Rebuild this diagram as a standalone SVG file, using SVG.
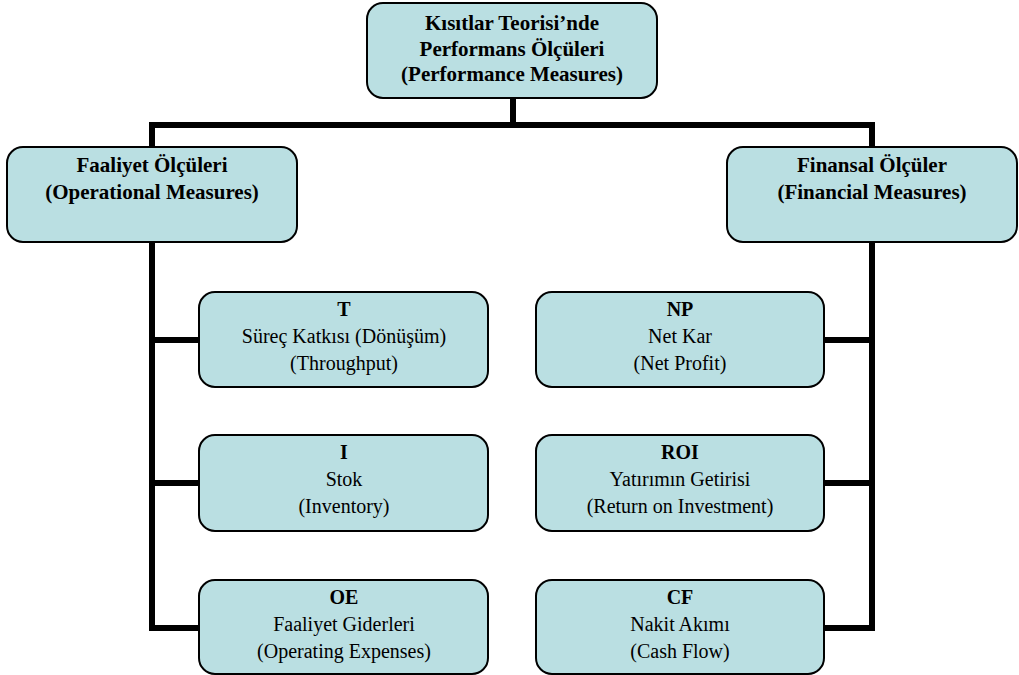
<svg xmlns="http://www.w3.org/2000/svg" width="1019" height="675" viewBox="0 0 1019 675">
<style>
.box{fill:#BADFE2;stroke:#000;stroke-width:2}
.t{font-family:"Liberation Serif","Times New Roman",serif;font-size:20px;fill:#000;text-anchor:middle}
.b{font-weight:bold}
.h{font-size:21px}
.c{fill:none;stroke:#000;stroke-width:6;stroke-linejoin:miter;stroke-linecap:butt}
</style>
<rect width="1019" height="675" fill="#fff"/>
<g id="connectors">
<path class="c" d="M513 98V125M149 125H875M152 125V147M872 125V147"/>
<path class="c" d="M152 242V631M152 340H199M152 483H199M149 628H199"/>
<path class="c" d="M872 242V631M872 340H824M872 483H824M875 628H824"/>
</g>
<g id="root">
<rect class="box" x="367" y="3" width="290" height="95" rx="16"/>
<text class="t b h" x="512" y="30">Kısıtlar Teorisi’nde</text>
<text class="t b h" x="512" y="55.5">Performans Ölçüleri</text>
<text class="t b h" x="512" y="81">(Performance Measures)</text>
</g>
<g id="operational">
<rect class="box" x="7" y="147" width="290" height="95" rx="16"/>
<text class="t b h" x="152" y="172">Faaliyet Ölçüleri</text>
<text class="t b h" x="152" y="199">(Operational Measures)</text>
</g>
<g id="financial">
<rect class="box" x="727" y="147" width="290" height="95" rx="16"/>
<text class="t b h" x="872" y="172">Finansal Ölçüler</text>
<text class="t b h" x="872" y="199">(Financial Measures)</text>
</g>
<g id="T">
<rect class="box" x="199" y="292" width="289" height="95" rx="16"/>
<text class="t b" x="344" y="316">T</text>
<text class="t" x="344" y="343">Süreç Katkısı (Dönüşüm)</text>
<text class="t" x="344" y="370">(Throughput)</text>
</g>
<g id="I">
<rect class="box" x="199" y="435" width="289" height="96" rx="16"/>
<text class="t b" x="344" y="459">I</text>
<text class="t" x="344" y="486">Stok</text>
<text class="t" x="344" y="513">(Inventory)</text>
</g>
<g id="OE">
<rect class="box" x="199" y="580" width="289" height="94" rx="16"/>
<text class="t b" x="344" y="604">OE</text>
<text class="t" x="344" y="631">Faaliyet Giderleri</text>
<text class="t" x="344" y="658">(Operating Expenses)</text>
</g>
<g id="NP">
<rect class="box" x="536" y="292" width="288" height="95" rx="16"/>
<text class="t b" x="680" y="316">NP</text>
<text class="t" x="680" y="343">Net Kar</text>
<text class="t" x="680" y="370">(Net Profit)</text>
</g>
<g id="ROI">
<rect class="box" x="536" y="435" width="288" height="96" rx="16"/>
<text class="t b" x="680" y="459">ROI</text>
<text class="t" x="680" y="486">Yatırımın Getirisi</text>
<text class="t" x="680" y="513">(Return on Investment)</text>
</g>
<g id="CF">
<rect class="box" x="536" y="580" width="288" height="94" rx="16"/>
<text class="t b" x="680" y="604">CF</text>
<text class="t" x="680" y="631">Nakit Akımı</text>
<text class="t" x="680" y="658">(Cash Flow)</text>
</g>
</svg>
